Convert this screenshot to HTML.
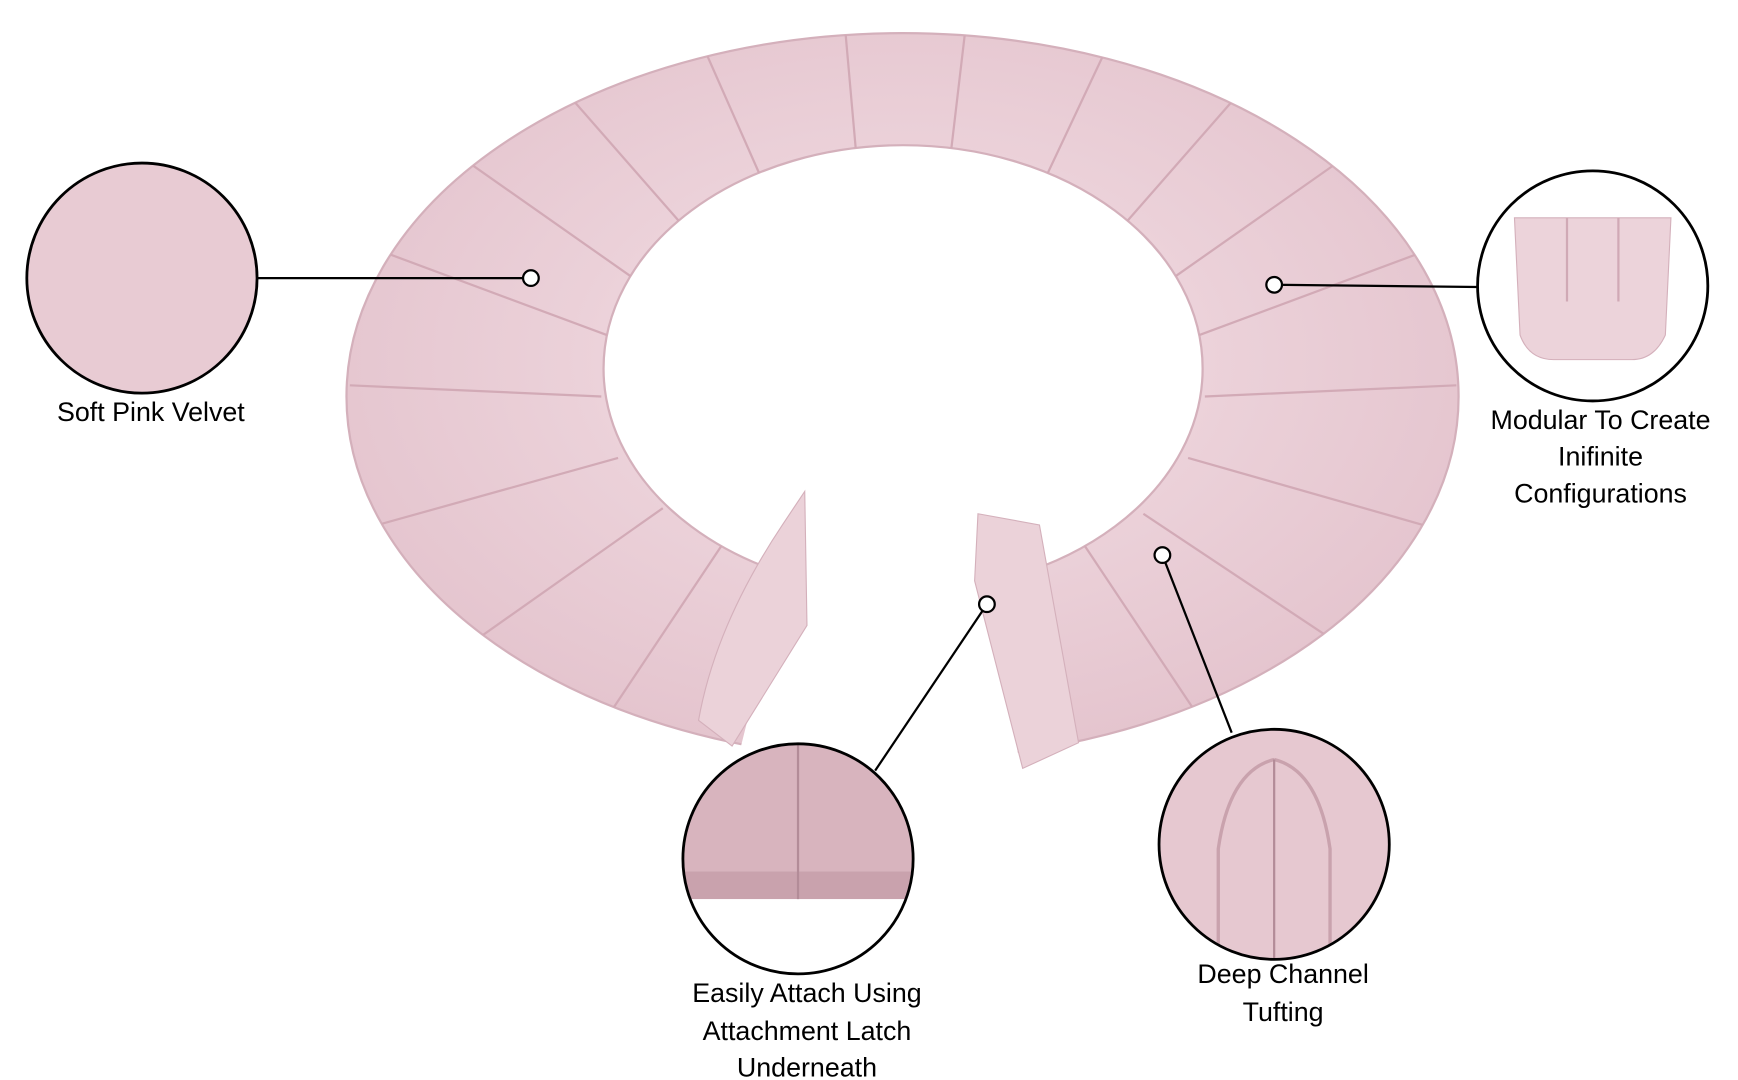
<!DOCTYPE html>
<html><head><meta charset="utf-8"><style>html,body{margin:0;padding:0;background:#fff}svg{display:block}</style></head>
<body>
<svg width="1738" height="1080" viewBox="0 0 1555 967" preserveAspectRatio="none" xmlns="http://www.w3.org/2000/svg" font-family="Liberation Sans, sans-serif">
<defs>
<radialGradient id="g" cx="50%" cy="45%" r="60%"><stop offset="0" stop-color="#f3dfe5"/><stop offset="1" stop-color="#e3c2cc"/></radialGradient>
<clipPath id="c1"><circle cx="714" cy="769" r="102"/></clipPath>
<clipPath id="c2"><circle cx="1140" cy="756" r="102"/></clipPath>
<clipPath id="ring"><path clip-rule="evenodd" d="M310,355 A497,325 0 1 1 1305,355 A497,325 0 1 1 310,355 Z M540,330 A268,200 0 1 0 1076,330 A268,200 0 1 0 540,330 Z"/></clipPath>
</defs>
<path fill-rule="evenodd" fill="url(#g)" stroke="#d4b0bb" stroke-width="2" d="M310,355 A497,325 0 1 1 1305,355 A497,325 0 1 1 310,355 Z M540,330 A268,200 0 1 0 1076,330 A268,200 0 1 0 540,330 Z"/>
<g stroke="#d2aab6" stroke-width="2" fill="none" clip-path="url(#ring)">
<path d="M808,360 m-270,-5 l-225,-10 M808,360 m-265,-60 l-215,-80 M808,360 m-240,-110 l-185,-130 M808,360 m-190,-150 l-140,-160 M808,360 m-120,-185 l-75,-170 M808,360 m-40,-200 l-15,-170 M808,360 m40,-200 l20,-170 M808,360 m120,-185 l80,-170 M808,360 m190,-150 l140,-160 M808,360 m240,-110 l185,-130 M808,360 m265,-60 l215,-80 M808,360 m270,-5 l225,-10 M808,360 m255,50 l210,60 M808,360 m215,100 l180,120 M808,360 m-255,50 l-215,60 M808,360 m-215,95 l-170,120 M808,360 m-160,125 l-100,150 M808,360 m160,125 l100,150"/>
</g>
<polygon points="808,300 720,440 655,700 915,700 875,460" fill="#fff"/>
<path d="M720,440 L722,560 L655,668 L625,645 Q640,560 700,470 Z" fill="#ebd2d9" stroke="#d4b0bb"/>
<path d="M875,460 L930,470 L965,665 L915,688 L872,520 Z" fill="#ebd2d9" stroke="#d4b0bb"/>
<g stroke="#000" stroke-width="2">
<line x1="230" y1="249" x2="475" y2="249"/>
<line x1="1140" y1="255" x2="1322" y2="257"/>
<line x1="883" y1="541" x2="783" y2="690"/>
<line x1="1040" y1="497" x2="1102" y2="656"/>
</g>
<g fill="#fff" stroke="#000" stroke-width="2">
<circle cx="475" cy="249" r="7"/><circle cx="1140" cy="255" r="7"/><circle cx="883" cy="541" r="7"/><circle cx="1040" cy="497" r="7"/>
</g>
<circle cx="127" cy="249" r="103" fill="#e8cbd3" stroke="#000" stroke-width="2.5"/>
<circle cx="1425" cy="256" r="103" fill="#fff" stroke="#000" stroke-width="2.5"/>
<path d="M1355,195 L1495,195 L1490,300 Q1480,322 1460,322 L1390,322 Q1368,322 1360,300 Z" fill="#ecd3da" stroke="#d4b0bb"/>
<path d="M1402,195 V270 M1448,195 V270" stroke="#d0a9b5" stroke-width="2"/>
<g clip-path="url(#c1)"><rect x="600" y="660" width="230" height="220" fill="#fff"/><rect x="600" y="665" width="230" height="115" fill="#d8b4be"/><rect x="600" y="780" width="230" height="25" fill="#c9a2ad"/><line x1="714" y1="665" x2="714" y2="805" stroke="#b38c98" stroke-width="2"/></g>
<circle cx="714" cy="769" r="103" fill="none" stroke="#000" stroke-width="2.5"/>
<g clip-path="url(#c2)"><rect x="1030" y="650" width="230" height="220" fill="#e6c8d0"/><path d="M1140,680 Q1100,690 1090,760 L1090,870 M1140,680 Q1180,690 1190,760 L1190,870" stroke="#c9a2ad" stroke-width="3" fill="none"/><line x1="1140" y1="680" x2="1140" y2="870" stroke="#b38c98" stroke-width="2"/></g>
<circle cx="1140" cy="756" r="103" fill="none" stroke="#000" stroke-width="2.5"/>
<g font-size="24" fill="#000" text-anchor="middle">
<text x="135" y="377">Soft Pink Velvet</text>
<text x="1432" y="384">Modular To Create</text>
<text x="1432" y="417">Inifinite</text>
<text x="1432" y="450">Configurations</text>
<text x="722" y="897">Easily Attach Using</text>
<text x="722" y="931">Attachment Latch</text>
<text x="722" y="964">Underneath</text>
<text x="1148" y="880">Deep Channel</text>
<text x="1148" y="914">Tufting</text>
</g>
</svg>
</body></html>
